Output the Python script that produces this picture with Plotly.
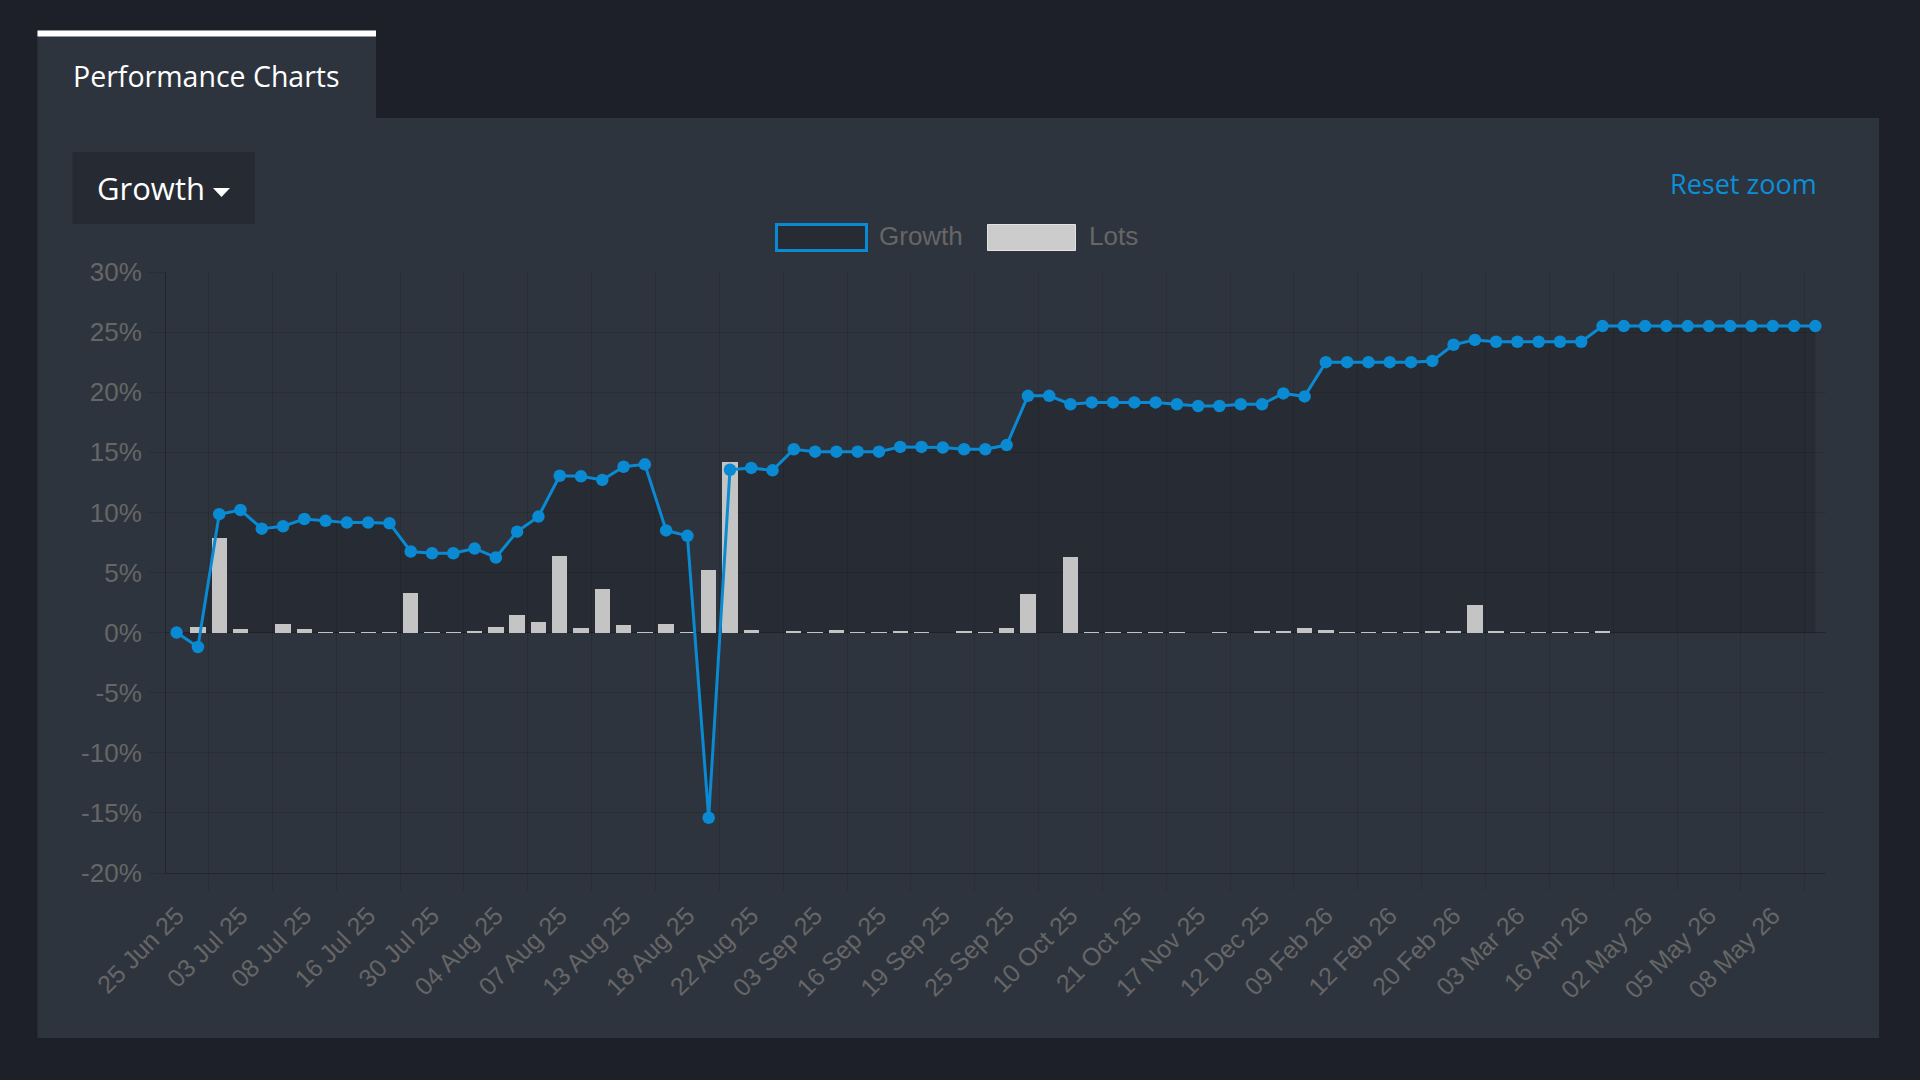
import plotly.graph_objects as go

# ---------------- data ----------------
tick_labels = ["25 Jun 25", "03 Jul 25", "08 Jul 25", "16 Jul 25", "30 Jul 25", "04 Aug 25",
               "07 Aug 25", "13 Aug 25", "18 Aug 25", "22 Aug 25", "03 Sep 25", "16 Sep 25",
               "19 Sep 25", "25 Sep 25", "10 Oct 25", "21 Oct 25", "17 Nov 25", "12 Dec 25",
               "09 Feb 26", "12 Feb 26", "20 Feb 26", "03 Mar 26", "16 Apr 26", "02 May 26",
               "05 May 26", "08 May 26"]

growth = [0.0, -1.2, 9.85, 10.2, 8.65, 8.85, 9.45, 9.3, 9.15, 9.15,
          9.1, 6.75, 6.6, 6.6, 7.0, 6.25, 8.4, 9.65, 13.05, 13.0,
          12.7, 13.8, 14.0, 8.5, 8.05, -15.4, 13.55, 13.7, 13.5, 15.25,
          15.05, 15.05, 15.05, 15.05, 15.45, 15.45, 15.4, 15.25, 15.25, 15.6,
          19.7, 19.7, 19.0, 19.15, 19.15, 19.15, 19.15, 19.0, 18.85, 18.85,
          19.0, 19.0, 19.9, 19.65, 22.5, 22.5, 22.5, 22.5, 22.5, 22.6,
          23.95, 24.35, 24.2, 24.2, 24.2, 24.2, 24.2, 25.5, 25.5, 25.5,
          25.5, 25.5, 25.5, 25.5, 25.5, 25.5, 25.5, 25.5]

lots = [0.0, 0.5, 7.9, 0.3, 0.0, 0.7, 0.3, 0.05, 0.05, 0.05,
        0.05, 3.3, 0.05, 0.05, 0.12, 0.5, 1.5, 0.85, 6.35, 0.4,
        3.6, 0.6, 0.05, 0.72, 0.05, 5.2, 14.2, 0.22, 0.0, 0.12,
        0.05, 0.2, 0.05, 0.03, 0.15, 0.05, 0.0, 0.08, 0.05, 0.35,
        3.2, 0.0, 6.3, 0.05, 0.05, 0.05, 0.05, 0.03, 0.0, 0.05,
        0.0, 0.08, 0.12, 0.42, 0.18, 0.05, 0.05, 0.05, 0.05, 0.1,
        0.12, 2.3, 0.15, 0.05, 0.05, 0.05, 0.05, 0.08, 0.0, 0.0,
        0.0, 0.0, 0.0, 0.0, 0.0, 0.0, 0.0, 0.0]

y_ticks = [-20, -15, -10, -5, 0, 5, 10, 15, 20, 25, 30]

# ---------------- layout helpers ----------------
W, H = 1920, 1080
L, R, T, B = 166, 1826, 272, 873


def px(x):
    return (x - L) / (R - L)


def py(y):
    return (B - y) / (B - T)


n = len(growth)
idx = list(range(n))
label_pos = list(range(0, 3 * len(tick_labels), 3))
grid_pos = [1.5 + 3 * k for k in range(len(tick_labels))]

OUTER = "#1d2028"
PANEL = "#2e343e"
GRID = "rgba(0,0,0,0.13)"
AXIS = "rgba(0,0,0,0.28)"
BLUE = "#0a8ad2"
TXT = "#666666"
CHART_FONT = "Arial, Liberation Sans, sans-serif"
UI_FONT = "Open Sans, sans-serif"

fig = go.Figure()

fig.add_trace(go.Scatter(
    x=idx, y=growth, mode="none", fill="tozeroy",
    fillcolor="rgba(0,0,0,0.15)", hoverinfo="skip", showlegend=False,
    xaxis="x", yaxis="y"))

fig.add_trace(go.Bar(
    x=idx, y=lots, name="Lots", width=0.72,
    marker=dict(color="#c4c4c4", line=dict(width=0)),
    showlegend=False, xaxis="x2", yaxis="y2"))

fig.add_trace(go.Scatter(
    x=idx, y=growth, name="Growth", mode="lines+markers",
    line=dict(color=BLUE, width=3),
    marker=dict(color=BLUE, size=12.5),
    showlegend=False, xaxis="x2", yaxis="y2"))

shapes = [
    dict(type="rect", xref="paper", yref="paper", layer="below",
         x0=px(37.5), x1=px(1879), y0=py(1038), y1=py(118),
         fillcolor=PANEL, line=dict(width=0)),
    dict(type="rect", xref="paper", yref="paper", layer="below",
         x0=px(37.5), x1=px(376), y0=py(118.5), y1=py(30.5),
         fillcolor=PANEL, line=dict(width=0)),
    dict(type="rect", xref="paper", yref="paper", layer="below",
         x0=px(37.5), x1=px(376), y0=py(36.5), y1=py(30.5),
         fillcolor="#ffffff", line=dict(width=0)),
    dict(type="rect", xref="paper", yref="paper", layer="below",
         x0=px(72.5), x1=px(255), y0=py(224), y1=py(152),
         fillcolor="#262a33", line=dict(width=0)),
    dict(type="path", xref="paper", yref="paper", layer="above",
         path="M %f,%f L %f,%f L %f,%f Z" % (px(213), py(188), px(230), py(188),
                                             px(221.5), py(197)),
         fillcolor="#ffffff", line=dict(width=0)),
    # legend boxes
    dict(type="rect", xref="paper", yref="paper", layer="above",
         x0=px(776.5), x1=px(866.5), y0=py(250.5), y1=py(224.5),
         fillcolor="rgba(0,0,0,0.15)", line=dict(color=BLUE, width=3)),
    dict(type="rect", xref="paper", yref="paper", layer="above",
         x0=px(987.5), x1=px(1075.5), y0=py(250.5), y1=py(224.5),
         fillcolor="#cccccc", line=dict(color="#e2e2e2", width=1)),
]

annotations = [
    dict(text="Performance Charts", xref="paper", yref="paper", x=px(71), y=py(75.5),
         xanchor="left", yanchor="middle", showarrow=False,
         font=dict(family=UI_FONT, size=28.5, color="#ffffff")),
    dict(text="Growth", xref="paper", yref="paper", x=px(95), y=py(188.5),
         xanchor="left", yanchor="middle", showarrow=False,
         font=dict(family=UI_FONT, size=31, color="#ffffff")),
    dict(text="Reset zoom", xref="paper", yref="paper", x=px(1819), y=py(184),
         xanchor="right", yanchor="middle", showarrow=False,
         font=dict(family=UI_FONT, size=27, color="#0b8fd8")),
    dict(text="Growth", xref="paper", yref="paper", x=px(877), y=py(236),
         xanchor="left", yanchor="middle", showarrow=False,
         font=dict(family=CHART_FONT, size=26, color=TXT)),
    dict(text="Lots", xref="paper", yref="paper", x=px(1087), y=py(236),
         xanchor="left", yanchor="middle", showarrow=False,
         font=dict(family=CHART_FONT, size=26, color=TXT)),
]

fig.update_layout(
    width=W, height=H,
    margin=dict(l=L, r=W - R, t=T, b=H - B, pad=0),
    paper_bgcolor=OUTER,
    plot_bgcolor="rgba(0,0,0,0)",
    showlegend=False,
    bargap=0,
    shapes=shapes,
    annotations=annotations,
    xaxis=dict(
        range=[-0.5, n - 0.5], tickmode="array", tickvals=grid_pos,
        showticklabels=False, ticks="outside", ticklen=17, tickcolor=GRID, tickwidth=1,
        showgrid=True, gridcolor=GRID, gridwidth=1, zeroline=False,
        showline=True, linecolor=AXIS, linewidth=1, fixedrange=True),
    yaxis=dict(
        range=[-20, 30], tickmode="array", tickvals=y_ticks,
        ticktext=["%d%%" % v for v in y_ticks],
        ticks="outside", ticklen=17, tickcolor=GRID, tickwidth=1,
        ticklabelstandoff=1,
        tickfont=dict(family=CHART_FONT, size=26, color=TXT),
        showgrid=True, gridcolor=GRID, gridwidth=1,
        zeroline=True, zerolinecolor=AXIS, zerolinewidth=1,
        showline=True, linecolor=AXIS, linewidth=1, fixedrange=True),
    xaxis2=dict(
        overlaying="x", anchor="y2", side="bottom", range=[-0.5, n - 0.5],
        tickmode="array", tickvals=label_pos, ticktext=tick_labels,
        tickangle=-45, ticks="outside", ticklen=17, tickcolor="rgba(0,0,0,0)",
        tickfont=dict(family=CHART_FONT, size=25, color=TXT),
        showgrid=False, zeroline=False, showline=False, fixedrange=True),
    yaxis2=dict(
        overlaying="y", anchor="x2", range=[-20, 30], visible=False,
        showgrid=False, zeroline=False, fixedrange=True),
)

fig.write_html("out.html")
